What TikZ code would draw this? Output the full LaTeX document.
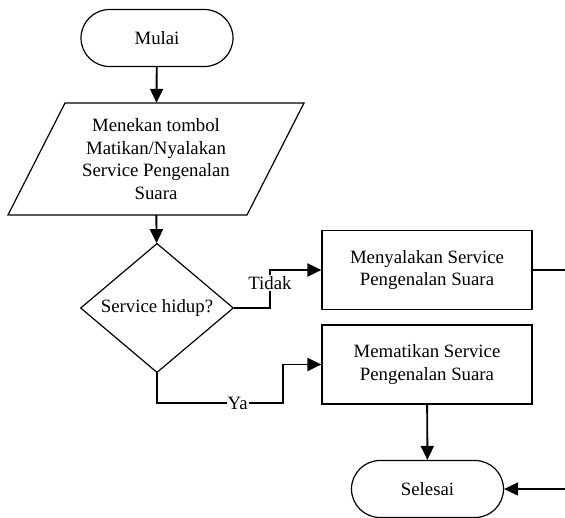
\documentclass[tikz,border=0pt]{standalone}
\usepackage{fontspec}
\setmainfont{Liberation Serif}
\usetikzlibrary{arrows.meta,shapes.geometric}
\begin{document}
\begin{tikzpicture}[x=1pt, y=-1pt,
  font=\fontsize{18.8}{22.5}\selectfont,
  terminal/.style={draw, line width=1.2pt, rectangle, rounded corners=28.5pt,
    minimum width=152pt, minimum height=57pt},
  process/.style={draw, line width=1.2pt, rectangle, align=center,
    minimum width=210pt, minimum height=79pt},
  decision/.style={draw, line width=1.2pt, diamond, inner sep=0pt,
    minimum width=153pt, minimum height=113pt},
  flow/.style={line width=1.9pt, -{Triangle[length=14pt, width=13pt]}},
  lbl/.style={fill=white, inner sep=1pt}]
\useasboundingbox (0,0) rectangle (565,517);

\node[terminal] (start) at (157, 38) {Mulai};
\node[align=center, minimum height=112pt] (input) at (156, 159)
  {Menekan tombol\\Matikan/Nyalakan\\Service Pengenalan\\Suara};
\draw[line width=1.2pt] (65,103) -- (304,103) -- (247,215) -- (8,215) -- cycle;
\node[decision] (check) at (157, 308) {Service hidup?};
\node[process] (on) at (427, 270) {Menyalakan Service\\Pengenalan Suara};
\node[process] (off) at (427, 364.5) {Mematikan Service\\Pengenalan Suara};
\node[terminal] (stop) at (427.5, 489) {Selesai};

\draw[flow] (start) -- (input);
\draw[flow] (input) -- (check);
\draw[flow] (check.east) -- (270,308) |- node[lbl, pos=0.33] {Tidak} (on.west);
\draw[flow] (check.south) |- node[lbl, pos=0.82] {Ya} (283,403) |- (off.west);
\draw[flow] (off) -- (stop);
\draw[flow] (on.east) -- (570,270) -- (570,489) -- (stop.east);
\end{tikzpicture}
\end{document}
